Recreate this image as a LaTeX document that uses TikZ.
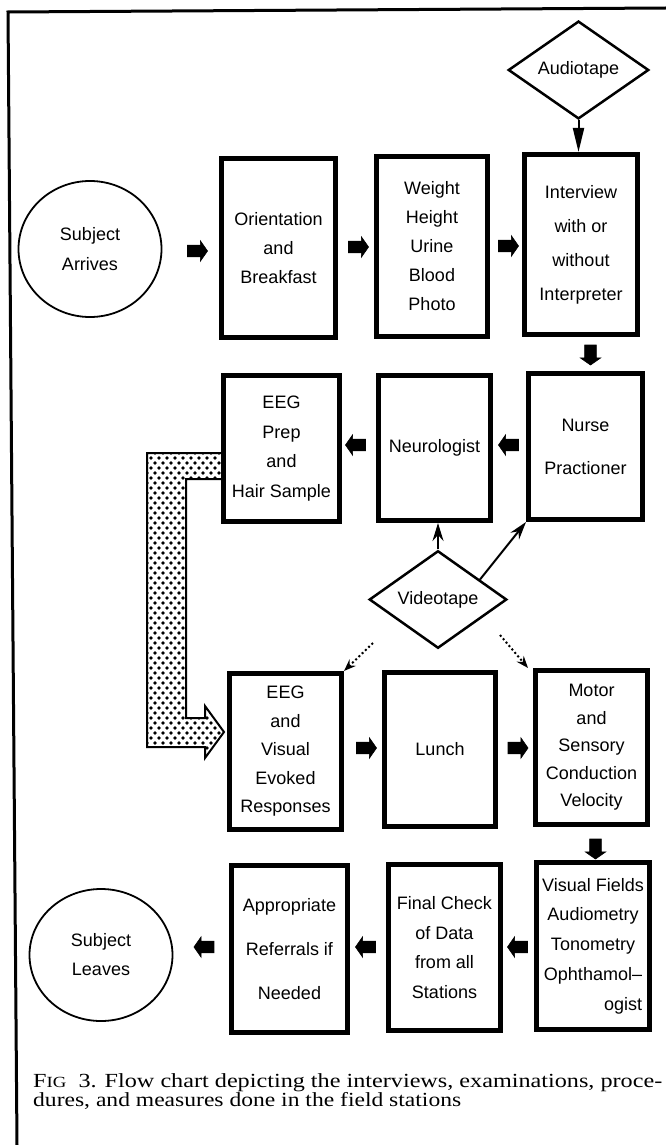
\documentclass[tikz,border=0pt]{standalone}
\usepackage{fontspec}
\usepackage{graphicx}
\setmainfont{Liberation Serif}
\newfontfamily\boxfont[Ligatures=TeX]{Liberation Sans}
\usetikzlibrary{shapes.geometric,shapes.arrows,arrows.meta,calc}
\begin{document}
\begin{tikzpicture}[x=1pt,y=-1pt,
  box/.style={draw, line width=5pt, inner sep=0pt, align=center, font=\boxfont\fontsize{18}{29}\selectfont},
  circ/.style={draw, ellipse, line width=1.8pt, inner sep=0pt, align=center, font=\boxfont\fontsize{18}{30}\selectfont},
  dia/.style={draw, diamond, line width=2.5pt, inner sep=0pt, font=\boxfont\fontsize{18}{22}\selectfont},
  blk/.style={single arrow, fill=black, draw=black, line width=0.6pt, inner xsep=0pt, inner ysep=5.5pt, minimum height=20pt, single arrow head extend=4.5pt, single arrow tip angle=110},
  blkdown/.style={blk, inner xsep=5.5pt, inner ysep=0pt, shape border rotate=270},
  audarrow/.style={line width=2pt, -{Triangle[length=24pt,width=11pt]}},
  vidarrow/.style={line width=2pt, -{Stealth[length=18pt,width=11pt,inset=6pt]}},
  dotarrow/.style={line width=2pt, dash pattern=on 2pt off 2.5pt, -{Stealth[length=12pt,width=9pt,inset=4pt]}}
]
\useasboundingbox (0,0) rectangle (666,1145);
\fill[white] (0,0) rectangle (666,1145);
% frame
\draw[line width=3pt] (666,8) -- (8,12) -- (17,1145);

% stipple bent arrow
\def\stipplepath{(221,453) -- (147,453) -- (147,747) -- (205,747) -- (205,758) -- (224,732)
  -- (205,706) -- (205,718) -- (186,718) -- (186,479) -- (221,479) -- cycle}
\begin{scope}
  \clip \stipplepath;
  \foreach \j in {0,...,64} {
    \pgfmathsetmacro\yy{448+5*\j}
    \pgfmathsetmacro\off{mod(\j,2)*4}
    \foreach \i in {0,...,11} {
      \fill ({143+\off+8*\i},\yy) circle[radius=1.9pt];
    }
  }
\end{scope}
\draw[line width=2pt] (221,453) -- (147,453) -- (147,747) -- (205,747) -- (205,758) -- (224,732)
  -- (205,706) -- (205,718) -- (186,718) -- (186,479) -- (221,479);

% circles
\node[circ, minimum width=143pt, minimum height=136pt] (arr) at (90,249) {Subject\\Arrives};
\node[circ, minimum width=143pt, minimum height=132pt, font=\boxfont\fontsize{18}{29}\selectfont] (lea) at (101,955) {Subject\\Leaves};

% row 1
\node[box, minimum width=114pt, minimum height=179pt] (ori) at (278.5,248) {Orientation\\and\\Breakfast};
\node[box, minimum width=111pt, minimum height=180pt] (wei) at (432,246.5) {Weight\\Height\\Urine\\Blood\\Photo};
\node[box, minimum width=113pt, minimum height=180pt, font=\boxfont\fontsize{18}{34}\selectfont] (int) at (581,244.5) {Interview\\with or\\without\\Interpreter};

% row 2
\node[box, minimum width=114pt, minimum height=146pt, font=\boxfont\fontsize{18}{43}\selectfont] (nur) at (585.5,446.5) {Nurse\\Practioner};
\node[box, minimum width=112pt, minimum height=145pt] (neu) at (434.5,448) {Neurologist};
\node[box, minimum width=116pt, minimum height=146pt, font=\boxfont\fontsize{18}{29.5}\selectfont] (pre) at (281.5,448.5) {EEG\\Prep\\and\\Hair Sample};

% row 3
\node[box, minimum width=112pt, minimum height=156pt, font=\boxfont\fontsize{18}{28.5}\selectfont] (eev) at (285.5,751.5) {EEG\\and\\Visual\\Evoked\\Responses};
\node[box, minimum width=111pt, minimum height=154pt] (lun) at (440,749.5) {Lunch};
\node[box, minimum width=112pt, minimum height=154pt, font=\boxfont\fontsize{18}{27.5}\selectfont] (mot) at (591.5,747.5) {Motor\\and\\Sensory\\Conduction\\Velocity};

% row 4
\node[box, minimum width=113pt, minimum height=167pt, font=\boxfont\fontsize{18}{29.7}\selectfont] (vis) at (593,946) {Visual Fields\\Audiometry\\Tonometry\\Ophthamol–\\\phantom{Ophthamol–}\llap{ogist}};
\node[box, minimum width=112pt, minimum height=166pt, font=\boxfont\fontsize{18}{29.5}\selectfont] (fin) at (444.5,947.5) {Final Check\\of Data\\from all\\Stations};
\node[box, minimum width=116pt, minimum height=167pt, font=\boxfont\fontsize{18}{44}\selectfont] (app) at (289.5,949) {Appropriate\\Referrals if\\Needed};

% diamonds
\node[dia, minimum width=140.5pt, minimum height=81.5pt] (aud) at (578.5,70) {Audiotape};
\node[dia, minimum width=137.5pt, minimum height=82.5pt] (vid) at (438,599.5) {Videotape};

% block arrows
\node[blk] (b1) at (195.5,251) {};
\node[blk] (b2) at (356.5,247) {};
\node[blk] (b3) at (506.5,246) {};
\node[blkdown] (b4) at (590.5,353) {};
\node[blk, shape border rotate=180] (b5) at (510.5,445) {};
\node[blk, shape border rotate=180] (b6) at (357.5,445) {};
\node[blk] (b7) at (364.5,748) {};
\node[blk] (b8) at (516,748) {};
\node[blkdown] (b9) at (595.5,847) {};
\node[blk, shape border rotate=180] (b10) at (519.5,947) {};
\node[blk, shape border rotate=180] (b11) at (367.5,947) {};
\node[blk, shape border rotate=180] (b12) at (206,947) {};

% connectors
\draw[audarrow] (aud.south) -- (aud.south |- int.north);
\draw[vidarrow] (vid.north) -- (vid.north |- neu.south);
\draw[vidarrow] ($(vid.north)!0.6!(vid.east)$) -- (nur.south west);
\coordinate (d1) at (373,643);
\coordinate (d2) at (500,635);
\draw[dotarrow] (d1) -- (eev.north east);
\draw[dotarrow] (d2) -- ([xshift=-5pt]mot.north west);

% caption
\node[anchor=base west, inner sep=0pt] (cap1) at (33,1087) {\resizebox{629pt}{\height}{\fontsize{20}{21}\selectfont F{\fontsize{15.5}{16}\selectfont IG}\ \ 3. Flow chart depicting the interviews, examinations, proce-}};
\node[anchor=base west, inner sep=0pt] (cap2) at (33,1106) {\resizebox{428pt}{\height}{\fontsize{20}{21}\selectfont dures, and measures done in the field stations}};
\end{tikzpicture}
\end{document}
